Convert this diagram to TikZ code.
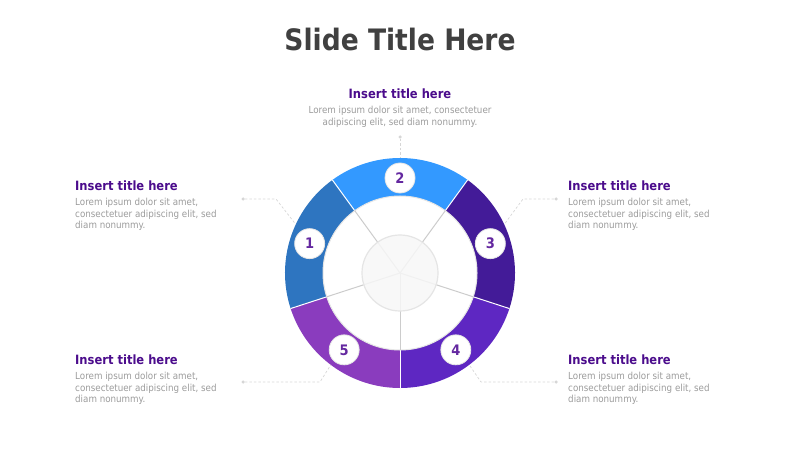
\documentclass[tikz,border=0pt]{standalone}
\usepackage{fontspec}
\setmainfont{DejaVu Sans}[FakeStretch=0.9]
\usetikzlibrary{calc,positioning}
\definecolor{segA}{RGB}{46,117,192}
\definecolor{segB}{RGB}{51,153,255}
\definecolor{segC}{RGB}{67,27,152}
\definecolor{segD}{RGB}{94,39,194}
\definecolor{segE}{RGB}{138,60,190}
\definecolor{headc}{RGB}{64,64,64}
\definecolor{ttlc}{RGB}{75,12,140}
\definecolor{numc}{RGB}{100,40,160}
\definecolor{txtc}{RGB}{155,155,155}
\definecolor{lnkc}{RGB}{214,214,214}
\begin{document}
\begin{tikzpicture}[x=1pt, y=1pt]
\tikzstyle{num}=[circle, fill=white, draw=black!10, line width=0.8pt,
                 inner sep=0pt, minimum size=30pt, text=numc,
                 font=\fontsize{14.5}{14.5}\selectfont\bfseries]
\tikzstyle{ttl}=[inner sep=0pt, text=ttlc, font=\fontsize{12.8}{14}\selectfont\bfseries]
\tikzstyle{txt}=[inner sep=0pt, text=txtc, font=\fontsize{9.7}{11.6}\selectfont]
\tikzstyle{lnk}=[draw=lnkc, line width=0.7pt, dash pattern=on 2.5pt off 2pt]
\tikzstyle{dot}=[circle, fill=lnkc, inner sep=0pt, minimum size=3.5pt]
\useasboundingbox (0,0) rectangle (800,450);
\node[inner sep=0pt, text=headc, font=\fontsize{29.5}{30}\selectfont\bfseries] (head) at (400,410) {Slide Title Here};
% wheel
\begin{scope}[shift={(400,177)}]
\coordinate (c) at (0,0);
\foreach \a/\b/\col in {126/198/segA, 54/126/segB, -18/54/segC, -90/-18/segD, -162/-90/segE}{\fill[\col] (c) -- (\a:115) arc[start angle=\a, end angle=\b, radius=115] -- cycle;}
\foreach \a in {126,54,-18,-90,-162}{\draw[white, line width=1pt] (c) -- (\a:115);}
\filldraw[fill=white, draw=black!10, line width=1pt] (c) circle[radius=77];
\foreach \a in {126,54,-18,-90,-162}{\draw[black!20, line width=1pt] (c) -- (\a:77);}
\filldraw[fill=black!3, fill opacity=0.85, draw=black!10, line width=1.2pt] (c) circle[radius=38];
\foreach \i/\ang in {1/162, 2/90, 3/18, 4/-54, 5/-126}{\node[num] (n\i) at (\ang:95) {\i};}
\coordinate (e1) at (155:115);
\coordinate (e2) at (90:115);
\coordinate (e3) at (25:115);
\coordinate (e4) at (-53:115);
\coordinate (e5) at (-127:115);
\end{scope}
% texts
\node[ttl] (t2) at (400,356) {Insert title here};
\node[txt, align=center, below=7pt of t2] (b2) {Lorem ipsum dolor sit amet, consectetuer\\adipiscing elit, sed diam nonummy.};
\foreach \i/\x/\y in {1/75/264, 3/568/264, 4/568/90, 5/75/90}{
\node[ttl, anchor=west] (t\i) at (\x,\y) {Insert title here};
\node[txt, align=left, below=7pt of t\i.south west, anchor=north west] (b\i) {Lorem ipsum dolor sit amet,\\consectetuer adipiscing elit, sed\\diam nonummy.};
}
% connectors
\node[dot] (p1) at (243,251) {};
\node[dot] (p2) at (400,313) {};
\node[dot] (p3) at (556,251) {};
\node[dot] (p4) at (556,68) {};
\node[dot] (p5) at (243,68) {};
\coordinate (k1) at (276,251);
\coordinate (k3) at (523,251);
\coordinate (k4) at (481,68);
\coordinate (k5) at (320,68);
\draw[lnk] (p2) -- (e2);
\foreach \i in {1,3,4,5}{\draw[lnk] (p\i) -- (k\i) -- (e\i);}
\end{tikzpicture}
\end{document}
